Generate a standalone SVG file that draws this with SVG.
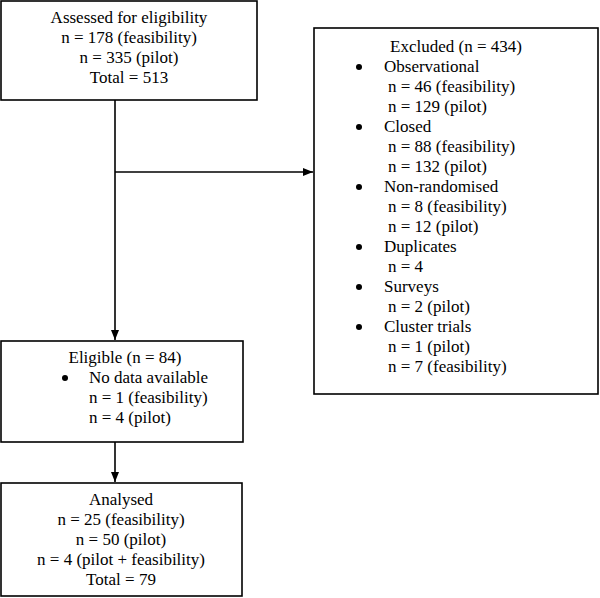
<svg xmlns="http://www.w3.org/2000/svg" width="600" height="598" viewBox="0 0 600 598">
<defs>
<marker id="ah" markerWidth="10" markerHeight="8" refX="10" refY="4" orient="auto" markerUnits="userSpaceOnUse">
<path d="M0,0 L10,4 L0,8 Z" fill="#000"/>
</marker>
<style>
.box{fill:#fff;stroke:#000;stroke-width:1.6}
text{font-family:"Liberation Serif","Times New Roman","DejaVu Serif",serif;font-size:17px;fill:#000}
.c{text-anchor:middle}
.ln{stroke:#000;stroke-width:1.6;fill:none}
</style>
</defs>
<rect width="600" height="598" fill="#fff"/>
<g id="connectors">
<line class="ln" x1="115" y1="100" x2="115" y2="340" marker-end="url(#ah)"/>
<line class="ln" x1="115" y1="172" x2="313" y2="172" marker-end="url(#ah)"/>
<line class="ln" x1="115" y1="442" x2="115" y2="482" marker-end="url(#ah)"/>
</g>
<g id="assessed">
<rect class="box" x="1" y="1" width="256" height="99"/>
<text class="c" x="129" y="23">Assessed for eligibility</text>
<text class="c" x="129" y="43">n = 178 (feasibility)</text>
<text class="c" x="129" y="63">n = 335 (pilot)</text>
<text class="c" x="129" y="83">Total = 513</text>
</g>
<g id="excluded">
<rect class="box" x="314" y="28" width="284" height="366"/>
<text class="c" x="456" y="52">Excluded (n = 434)</text>
<circle cx="359" cy="67" r="3"/>
<text x="384" y="72">Observational</text>
<text x="388" y="92">n = 46 (feasibility)</text>
<text x="388" y="112">n = 129 (pilot)</text>
<circle cx="359" cy="127" r="3"/>
<text x="384" y="132">Closed</text>
<text x="388" y="152">n = 88 (feasibility)</text>
<text x="388" y="172">n = 132 (pilot)</text>
<circle cx="359" cy="187" r="3"/>
<text x="384" y="192">Non-randomised</text>
<text x="388" y="212">n = 8 (feasibility)</text>
<text x="388" y="232">n = 12 (pilot)</text>
<circle cx="359" cy="247" r="3"/>
<text x="384" y="252">Duplicates</text>
<text x="388" y="272">n = 4</text>
<circle cx="359" cy="287" r="3"/>
<text x="384" y="292">Surveys</text>
<text x="388" y="312">n = 2 (pilot)</text>
<circle cx="359" cy="327" r="3"/>
<text x="384" y="332">Cluster trials</text>
<text x="388" y="352">n = 1 (pilot)</text>
<text x="388" y="372">n = 7 (feasibility)</text>
</g>
<g id="eligible">
<rect class="box" x="1" y="341" width="242" height="101"/>
<text class="c" x="125" y="363">Eligible (n = 84)</text>
<circle cx="65" cy="378" r="3"/>
<text x="89" y="383">No data available</text>
<text x="89" y="403">n = 1 (feasibility)</text>
<text x="89" y="423">n = 4 (pilot)</text>
</g>
<g id="analysed">
<rect class="box" x="1" y="483" width="241" height="113"/>
<text class="c" x="121" y="505">Analysed</text>
<text class="c" x="121" y="525">n = 25 (feasibility)</text>
<text class="c" x="121" y="545">n = 50 (pilot)</text>
<text class="c" x="121" y="565">n = 4 (pilot + feasibility)</text>
<text class="c" x="121" y="585">Total = 79</text>
</g>
</svg>
